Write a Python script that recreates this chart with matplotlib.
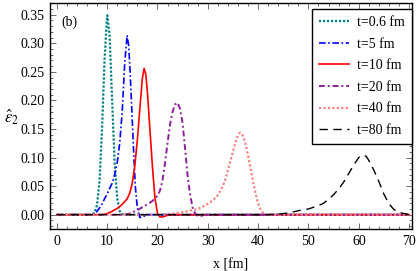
import numpy as np
import matplotlib
matplotlib.use('Agg')
import matplotlib.pyplot as plt
from matplotlib.ticker import MultipleLocator

plt.rcParams['font.family'] = ['Liberation Serif', 'DejaVu Serif']
plt.rcParams['mathtext.fontset'] = 'stix'

# values
x_06 = [0, 6.0, 7.0, 7.5, 8.0, 8.5, 9.0, 9.5, 10.0, 10.05, 10.5, 11.0, 11.5, 12.0, 12.5, 13.0, 13.5, 70]
y_06 = [0, 0.000, 0.0004, 0.0033, 0.017, 0.060, 0.152, 0.273, 0.348, 0.349, 0.313, 0.200, 0.090, 0.029, 0.0065, 0.001, 0.0, 0]

x_5 = [0, 7.0, 7.5, 8.0, 8.5, 9.0, 9.5, 10.0, 10.5, 11.0, 11.5, 12.0, 12.5, 13.0, 13.5, 13.97,
       14.3, 14.6, 15.0, 15.3, 15.6, 16.0, 16.5, 17.0, 18.0, 70]
y_5 = [0, 0.000, 0.002, 0.006, 0.012, 0.019, 0.028, 0.036, 0.046, 0.055, 0.070, 0.090, 0.125, 0.180, 0.265, 0.314,
       0.295, 0.245, 0.165, 0.105, 0.050, 0.012, -0.005, -0.004, 0.0, 0]

x_10 = [0, 9.0, 10.0, 11.0, 12.0, 13.0, 14.0, 14.5, 15.0, 15.5, 16.0, 16.5, 17.0, 17.35, 17.7,
        18.0, 18.5, 19.0, 19.5, 20.0, 20.5, 21.0, 22.0, 23.0, 70]
y_10 = [0, 0.000, 0.002, 0.006, 0.011, 0.018, 0.028, 0.038, 0.055, 0.085, 0.130, 0.185, 0.238, 0.256, 0.245,
        0.215, 0.150, 0.085, 0.030, 0.003, -0.004, -0.004, -0.001, 0.0, 0]

x_20 = [0, 13.0, 14.0, 15.0, 16.0, 17.0, 18.0, 19.0, 20.0, 20.5, 21.0, 21.5, 22.0, 22.5, 23.0, 23.5, 24.0,
        24.5, 25.0, 25.5, 26.0, 26.5, 27.0, 27.5, 28.0, 29.0, 30.0, 70]
y_20 = [0, 0.000, 0.001, 0.004, 0.008, 0.013, 0.018, 0.024, 0.033, 0.042, 0.060, 0.090, 0.125, 0.158, 0.180, 0.193, 0.196,
        0.185, 0.160, 0.115, 0.068, 0.035, 0.012, 0.002, -0.002, -0.002, 0.0, 0]

x_40 = [0, 20.0, 22.0, 24.0, 26.0, 27.0, 28.0, 29.0, 30.0, 31.0, 32.0, 33.0, 33.5, 34.0, 34.5, 35.0, 35.5, 36.0,
        36.4, 36.8, 37.2, 37.6, 38.0, 38.5, 39.0, 39.5, 40.0, 40.5, 41.0, 41.5, 70]
y_40 = [0, 0.000, 0.001, 0.003, 0.006, 0.008, 0.010, 0.014, 0.019, 0.025, 0.034, 0.050, 0.062, 0.078, 0.094, 0.110, 0.127, 0.139,
        0.1435, 0.141, 0.133, 0.120, 0.104, 0.082, 0.058, 0.037, 0.020, 0.009, 0.003, 0.0, 0]

x_80 = [0, 42.0, 44.0, 46.0, 48.0, 50.0, 51.0, 52.0, 53.0, 54.0, 55.0, 56.0, 57.0, 58.0, 59.0, 60.0, 60.8,
        61.5, 62.0, 63.0, 64.0, 65.0, 66.0, 67.0, 68.0, 69.0, 70.0]
y_80 = [0, 0.000, 0.001, 0.003, 0.007, 0.010, 0.013, 0.016, 0.020, 0.027, 0.035, 0.045, 0.057, 0.072, 0.087, 0.100, 0.1045,
        0.102, 0.095, 0.078, 0.058, 0.036, 0.019, 0.009, 0.004, 0.002, 0.0]

labels = ['t=0.6 fm', 't=5 fm', 't=10 fm', 't=20 fm', 't=40 fm', 't=80 fm']
colors = ['#008080', '#0000ff', '#ff0000', '#8b1f9b', '#ff8080', '#000000']
styles = [(0, (1, 0.8)), (0, (4, 1.5, 1, 1.5)), '-', (0, (3, 1.5, 1, 1.5)), (0, (1, 1)), (0, (6, 4))]
widths = [1.6, 1.2, 1.2, 1.4, 1.6, 1.0]

fig = plt.figure(figsize=(4.2, 2.71), dpi=100)
ax = fig.add_axes([0.119, 0.155, 0.861, 0.834])

series = [(x_06, y_06), (x_5, y_5), (x_10, y_10), (x_20, y_20), (x_40, y_40), (x_80, y_80)]
for i, (xs, ys) in enumerate(series):
    ax.plot(xs, ys, linestyle=styles[i], color=colors[i], lw=widths[i], label=labels[i])

ax.set_xlim(-1.35, 70.5)
ax.set_ylim(-0.025, 0.3705)
ax.xaxis.set_major_locator(MultipleLocator(10))
ax.xaxis.set_minor_locator(MultipleLocator(2))
ax.yaxis.set_major_locator(MultipleLocator(0.05))
ax.yaxis.set_minor_locator(MultipleLocator(0.01))
ax.yaxis.set_major_formatter(matplotlib.ticker.FormatStrFormatter('%.2f'))
ax.tick_params(which='both', direction='in', top=True, right=True, labelsize=10, width=0.6, color='#555555')
ax.tick_params(which='major', length=4, pad=4)
ax.tick_params(which='minor', length=2)
for sp in ax.spines.values():
    sp.set_linewidth(1.0)

ax.set_xlabel('x [fm]', fontsize=10, labelpad=8)
fig.text(12 / 420, 1 - 117 / 271, r'$\hat{\epsilon}_2$', fontsize=12, ha='center', va='center')
ax.text(1.0, 0.336, '(b)', fontsize=10, va='center', ha='left')

leg = ax.legend(loc='upper right', bbox_to_anchor=(1.0, 1 - 6 / 226), borderaxespad=0, fontsize=10,
                fancybox=False, framealpha=1, edgecolor='black', handlelength=2.2, handletextpad=0.55,
                labelspacing=0.62, borderpad=0.5)
leg.get_frame().set_linewidth(1.0)

fig.savefig('out.png', dpi=100)
